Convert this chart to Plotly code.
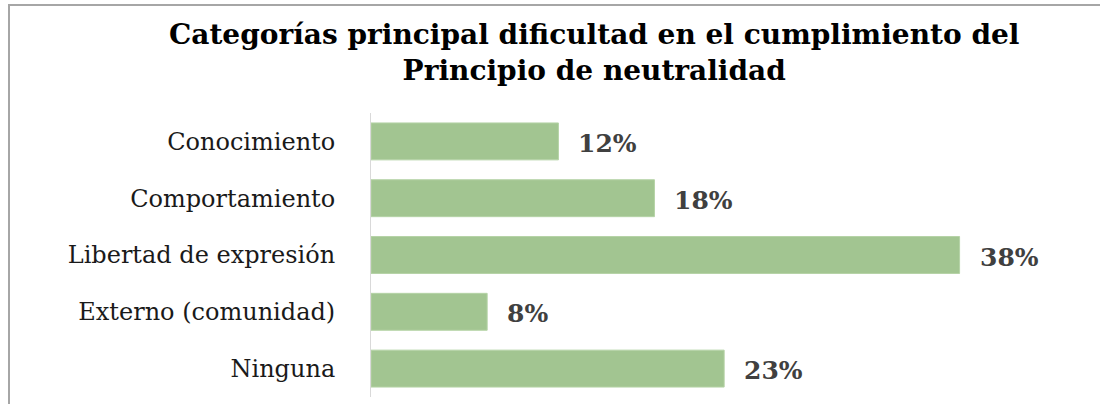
import plotly.graph_objects as go

# data
categories = ["Conocimiento", "Comportamiento", "Libertad de expresión",
              "Externo (comunidad)", "Ninguna"]
values = [12.1, 18.3, 38.0, 7.5, 22.8]
labels = ["12%", "18%", "38%", "8%", "23%"]
title_lines = ["Categorías principal dificultad en el cumplimiento del",
               "Principio de neutralidad"]

W, H = 1100, 404
L, R, T, B = 371, 32, 113, 7
SERIF = "DejaVu Serif"

fig = go.Figure()
fig.add_trace(go.Bar(
    x=values,
    y=categories,
    orientation="h",
    marker=dict(color="#A2C591", line=dict(color="#B5D3A6", width=1)),
    hoverinfo="x+y",
))

# value labels to the right of each bar
for v, c, lab in zip(values, categories, labels):
    fig.add_annotation(x=v, y=c, text=lab, showarrow=False,
                       xanchor="left", xshift=18, yshift=-2,
                       font=dict(family=SERIF, size=25,
                                 color="#404040", weight="bold"))

pw = W - L - R
ph = H - T - B

# title as an annotation so it sits where the reference has it
fig.add_annotation(xref="paper", yref="paper",
                   x=(594 - L) / pw, y=(H - B - 16) / ph,
                   xanchor="center", yanchor="top", showarrow=False,
                   text="<b>" + "<br>".join(title_lines) + "</b>",
                   font=dict(family=SERIF, size=28, color="#000000"))

# frame of the chart area (runs off right/bottom like the reference)
fig.add_shape(type="rect", xref="paper", yref="paper",
              x0=(9 - L) / pw, x1=(W + 20 - L) / pw,
              y0=-30 / ph, y1=(H - 5 - B) / ph,
              line=dict(color="#A6A6A6", width=2), layer="below")

fig.update_layout(
    width=W, height=H,
    margin=dict(l=L, r=R, t=T, b=B, autoexpand=False),
    paper_bgcolor="white",
    plot_bgcolor="white",
    showlegend=False,
    bargap=0.35,
    xaxis=dict(range=[0, 45], visible=False, showgrid=False, zeroline=False),
    yaxis=dict(
        autorange="reversed", automargin=False,
        showline=True, linecolor="#D9D9D9", linewidth=1,
        showgrid=False, ticks="",
        ticklabelstandoff=30,
        tickfont=dict(family=SERIF, size=24, color="#1a1a1a"),
    ),
)

# drop the browser's default body margin so the figure sits at (0, 0)
fig.write_html("out.html", config={"displayModeBar": False},
               post_script="document.body.style.margin='0';")
